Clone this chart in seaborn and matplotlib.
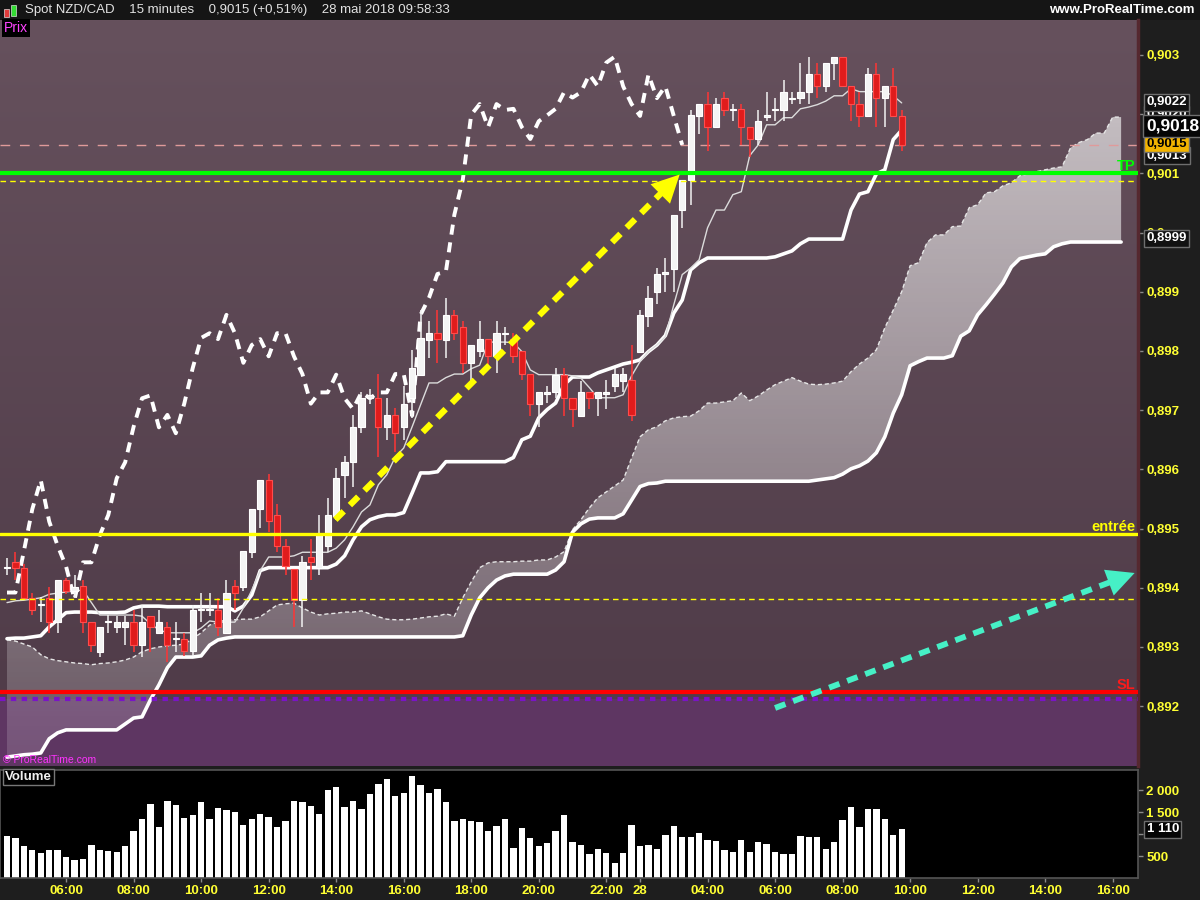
import numpy as np
import matplotlib
matplotlib.use("Agg")
import matplotlib.pyplot as plt
import matplotlib.transforms as mtransforms
from matplotlib.patches import Rectangle
import seaborn as sns

ouverture = [
    0.89433, 0.89443, 0.89433, 0.89382, 0.89371, 0.89382, 0.89343, 0.89413, 0.89394, 0.89403,
    0.89343, 0.89292, 0.89342, 0.89333, 0.89333, 0.89343, 0.89304, 0.89353, 0.89323, 0.89333,
    0.89313, 0.89314, 0.89293, 0.89362, 0.89362, 0.89363, 0.89323, 0.89403, 0.89402, 0.89461,
    0.89533, 0.89582, 0.89523, 0.89471, 0.89431, 0.89380, 0.89452, 0.89433, 0.89470, 0.89521,
    0.89590, 0.89612, 0.89671, 0.89720, 0.89720, 0.89671, 0.89692, 0.89671, 0.89720, 0.89760,
    0.89819, 0.89830, 0.89819, 0.89861, 0.89840, 0.89780, 0.89800, 0.89820, 0.89791, 0.89828,
    0.89820, 0.89800, 0.89761, 0.89711, 0.89728, 0.89730, 0.89760, 0.89720, 0.89690, 0.89730,
    0.89720, 0.89728, 0.89740, 0.89750, 0.89751, 0.89799, 0.89859, 0.89899, 0.89930, 0.89939,
    0.90038, 0.90089, 0.90197, 0.90217, 0.90178, 0.90227, 0.90207, 0.90208, 0.90178, 0.90158,
    0.90196, 0.90207, 0.90207, 0.90226, 0.90227, 0.90237, 0.90267, 0.90247, 0.90287, 0.90297,
    0.90247, 0.90217, 0.90197, 0.90267, 0.90227, 0.90247, 0.90197,
]
haut = [
    0.89450, 0.89461, 0.89441, 0.89392, 0.89385, 0.89402, 0.89413, 0.89416, 0.89422, 0.89413,
    0.89343, 0.89334, 0.89354, 0.89352, 0.89352, 0.89363, 0.89371, 0.89353, 0.89363, 0.89343,
    0.89343, 0.89323, 0.89371, 0.89392, 0.89392, 0.89382, 0.89413, 0.89413, 0.89462, 0.89533,
    0.89582, 0.89592, 0.89542, 0.89482, 0.89431, 0.89453, 0.89482, 0.89523, 0.89551, 0.89602,
    0.89622, 0.89692, 0.89731, 0.89735, 0.89761, 0.89720, 0.89703, 0.89741, 0.89801, 0.89870,
    0.89850, 0.89870, 0.89889, 0.89870, 0.89850, 0.89810, 0.89850, 0.89820, 0.89850, 0.89840,
    0.89830, 0.89800, 0.89761, 0.89730, 0.89740, 0.89771, 0.89771, 0.89720, 0.89750, 0.89730,
    0.89730, 0.89751, 0.89771, 0.89771, 0.89810, 0.89870, 0.89909, 0.89940, 0.89957, 0.90030,
    0.90089, 0.90207, 0.90217, 0.90237, 0.90227, 0.90237, 0.90217, 0.90217, 0.90178, 0.90207,
    0.90237, 0.90227, 0.90257, 0.90237, 0.90287, 0.90297, 0.90287, 0.90287, 0.90297, 0.90297,
    0.90247, 0.90237, 0.90278, 0.90287, 0.90247, 0.90278, 0.90207,
]
bas = [
    0.89422, 0.89413, 0.89379, 0.89354, 0.89343, 0.89323, 0.89323, 0.89390, 0.89382, 0.89323,
    0.89292, 0.89283, 0.89323, 0.89323, 0.89304, 0.89292, 0.89283, 0.89292, 0.89323, 0.89274,
    0.89292, 0.89284, 0.89284, 0.89343, 0.89352, 0.89318, 0.89323, 0.89363, 0.89394, 0.89450,
    0.89501, 0.89495, 0.89461, 0.89422, 0.89333, 0.89333, 0.89413, 0.89422, 0.89460, 0.89515,
    0.89551, 0.89571, 0.89661, 0.89710, 0.89621, 0.89650, 0.89630, 0.89650, 0.89686, 0.89760,
    0.89788, 0.89780, 0.89788, 0.89819, 0.89762, 0.89740, 0.89790, 0.89774, 0.89762, 0.89810,
    0.89780, 0.89751, 0.89690, 0.89671, 0.89712, 0.89720, 0.89690, 0.89671, 0.89690, 0.89702,
    0.89690, 0.89702, 0.89730, 0.89730, 0.89681, 0.89799, 0.89840, 0.89880, 0.89900, 0.89900,
    0.90007, 0.90047, 0.90167, 0.90137, 0.90178, 0.90197, 0.90188, 0.90148, 0.90128, 0.90148,
    0.90188, 0.90188, 0.90188, 0.90217, 0.90217, 0.90217, 0.90227, 0.90237, 0.90257, 0.90247,
    0.90188, 0.90178, 0.90197, 0.90178, 0.90178, 0.90197, 0.90137,
]
cloture = [
    0.89434, 0.89433, 0.89382, 0.89363, 0.89373, 0.89343, 0.89413, 0.89394, 0.89402, 0.89343,
    0.89304, 0.89334, 0.89344, 0.89343, 0.89343, 0.89304, 0.89343, 0.89333, 0.89343, 0.89304,
    0.89315, 0.89293, 0.89363, 0.89364, 0.89364, 0.89334, 0.89392, 0.89392, 0.89462, 0.89533,
    0.89582, 0.89512, 0.89471, 0.89436, 0.89380, 0.89443, 0.89443, 0.89489, 0.89523, 0.89585,
    0.89612, 0.89672, 0.89720, 0.89725, 0.89671, 0.89692, 0.89661, 0.89711, 0.89771, 0.89822,
    0.89830, 0.89820, 0.89861, 0.89830, 0.89780, 0.89810, 0.89820, 0.89791, 0.89830, 0.89830,
    0.89791, 0.89761, 0.89711, 0.89730, 0.89730, 0.89760, 0.89720, 0.89702, 0.89730, 0.89720,
    0.89730, 0.89730, 0.89761, 0.89761, 0.89691, 0.89861, 0.89890, 0.89930, 0.89934, 0.90030,
    0.90089, 0.90199, 0.90217, 0.90178, 0.90217, 0.90207, 0.90209, 0.90178, 0.90158, 0.90188,
    0.90198, 0.90209, 0.90237, 0.90228, 0.90237, 0.90267, 0.90247, 0.90287, 0.90297, 0.90247,
    0.90217, 0.90197, 0.90267, 0.90227, 0.90247, 0.90197, 0.90148,
]
volume = [
    948, 903, 722, 632, 564, 632, 632, 474, 406, 429,
    745, 632, 610, 587, 722, 1061, 1354, 1693, 1151, 1761,
    1670, 1377, 1445, 1738, 1354, 1603, 1558, 1512, 1196, 1354,
    1467, 1400, 1151, 1309, 1761, 1738, 1648, 1467, 2009, 2077,
    1625, 1761, 1580, 1919, 2144, 2257, 1874, 1941, 2325, 2122,
    1941, 2032, 1738, 1309, 1354, 1309, 1286, 1061, 1174, 1354,
    677, 1128, 903, 722, 790, 1061, 1445, 813, 745, 549,
    655, 564, 339, 564, 1196, 722, 745, 655, 970, 1174,
    926, 926, 1016, 858, 835, 632, 587, 858, 587, 813,
    768, 587, 542, 542, 948, 926, 926, 655, 813, 1332,
    1625, 1151, 1580, 1580, 1354, 970, 1110,
]

# Ichimoku (le nuage est déjà décalé de 26 barres)
tenkan = [
    0.89375, 0.89378, 0.89379, 0.89381, 0.89383, 0.89389, 0.89391, 0.89393, 0.89395, 0.89396,
    0.89375, 0.89354, 0.89354, 0.89354, 0.89354, 0.89354, 0.89352, 0.89339, 0.89329, 0.89324,
    0.89324, 0.89324, 0.89324, 0.89332, 0.89344, 0.89342, 0.89342, 0.89342, 0.89366, 0.89396,
    0.89429, 0.89452, 0.89452, 0.89452, 0.89454, 0.89460, 0.89460, 0.89460, 0.89460, 0.89467,
    0.89481, 0.89503, 0.89528, 0.89540, 0.89574, 0.89591, 0.89621, 0.89636, 0.89672, 0.89709,
    0.89746, 0.89746, 0.89755, 0.89761, 0.89761, 0.89770, 0.89776, 0.89815, 0.89815, 0.89815,
    0.89814, 0.89799, 0.89768, 0.89760, 0.89760, 0.89760, 0.89760, 0.89758, 0.89754, 0.89738,
    0.89721, 0.89721, 0.89721, 0.89726, 0.89758, 0.89782, 0.89799, 0.89810, 0.89824, 0.89878,
    0.89929, 0.89940, 0.89954, 0.90008, 0.90038, 0.90038, 0.90064, 0.90069, 0.90130, 0.90148,
    0.90182, 0.90182, 0.90194, 0.90194, 0.90209, 0.90212, 0.90216, 0.90222, 0.90231, 0.90231,
    0.90243, 0.90238, 0.90238, 0.90238, 0.90238, 0.90231, 0.90219,
]
kijun = [
    0.89314, 0.89315, 0.89315, 0.89317, 0.89319, 0.89334, 0.89346, 0.89358, 0.89359, 0.89359,
    0.89359, 0.89358, 0.89358, 0.89358, 0.89359, 0.89366, 0.89369, 0.89369, 0.89369, 0.89368,
    0.89368, 0.89368, 0.89368, 0.89368, 0.89368, 0.89368, 0.89368, 0.89361, 0.89369, 0.89388,
    0.89429, 0.89434, 0.89434, 0.89434, 0.89434, 0.89434, 0.89434, 0.89434, 0.89434, 0.89440,
    0.89454, 0.89481, 0.89503, 0.89515, 0.89520, 0.89523, 0.89523, 0.89527, 0.89560, 0.89594,
    0.89594, 0.89596, 0.89613, 0.89613, 0.89613, 0.89613, 0.89613, 0.89613, 0.89613, 0.89613,
    0.89620, 0.89650, 0.89656, 0.89687, 0.89701, 0.89712, 0.89743, 0.89756, 0.89756, 0.89756,
    0.89763, 0.89768, 0.89773, 0.89778, 0.89781, 0.89785, 0.89799, 0.89810, 0.89826, 0.89864,
    0.89886, 0.89937, 0.89949, 0.89957, 0.89957, 0.89957, 0.89957, 0.89957, 0.89957, 0.89957,
    0.89957, 0.89959, 0.89964, 0.89969, 0.89981, 0.89989, 0.89989, 0.89989, 0.89989, 0.89989,
    0.90038, 0.90065, 0.90069, 0.90099, 0.90106, 0.90157, 0.90173,
]
ssa = [
    0.89312, 0.89310, 0.89305, 0.89300, 0.89287, 0.89280, 0.89277, 0.89275, 0.89273, 0.89272,
    0.89270, 0.89272, 0.89273, 0.89275, 0.89278, 0.89283, 0.89292, 0.89297, 0.89300, 0.89302,
    0.89303, 0.89305, 0.89314, 0.89324, 0.89337, 0.89342, 0.89346, 0.89346, 0.89347, 0.89347,
    0.89351, 0.89361, 0.89371, 0.89373, 0.89374, 0.89366, 0.89359, 0.89354, 0.89356, 0.89357,
    0.89359, 0.89359, 0.89361, 0.89356, 0.89351, 0.89347, 0.89346, 0.89346, 0.89347, 0.89349,
    0.89351, 0.89352, 0.89356, 0.89352, 0.89383, 0.89410, 0.89434, 0.89442, 0.89444, 0.89444,
    0.89444, 0.89445, 0.89445, 0.89447, 0.89447, 0.89452, 0.89461, 0.89498, 0.89515, 0.89535,
    0.89552, 0.89562, 0.89572, 0.89582, 0.89619, 0.89655, 0.89667, 0.89672, 0.89682, 0.89687,
    0.89689, 0.89690, 0.89699, 0.89712, 0.89712, 0.89714, 0.89716, 0.89729, 0.89716, 0.89724,
    0.89734, 0.89743, 0.89749, 0.89755, 0.89749, 0.89744, 0.89743, 0.89744, 0.89746, 0.89749,
    0.89765, 0.89778, 0.89788, 0.89802, 0.89839, 0.89869, 0.89900, 0.89944, 0.89949, 0.89983,
    0.89996, 0.89996, 0.90010, 0.90011, 0.90042, 0.90047, 0.90067, 0.90069, 0.90079, 0.90084,
    0.90096, 0.90099, 0.90103, 0.90106, 0.90109, 0.90111, 0.90143, 0.90152, 0.90157, 0.90168,
    0.90168, 0.90195, 0.90195,
]
ssb = [
    0.89114, 0.89116, 0.89118, 0.89119, 0.89121, 0.89145, 0.89155, 0.89160, 0.89160, 0.89160,
    0.89160, 0.89160, 0.89160, 0.89160, 0.89170, 0.89180, 0.89182, 0.89211, 0.89236, 0.89265,
    0.89283, 0.89283, 0.89283, 0.89285, 0.89303, 0.89312, 0.89315, 0.89317, 0.89317, 0.89317,
    0.89317, 0.89317, 0.89317, 0.89317, 0.89317, 0.89317, 0.89317, 0.89317, 0.89317, 0.89317,
    0.89317, 0.89317, 0.89317, 0.89317, 0.89317, 0.89317, 0.89317, 0.89317, 0.89317, 0.89317,
    0.89317, 0.89317, 0.89317, 0.89317, 0.89319, 0.89354, 0.89383, 0.89400, 0.89413, 0.89420,
    0.89423, 0.89423, 0.89423, 0.89423, 0.89423, 0.89430, 0.89444, 0.89494, 0.89508, 0.89516,
    0.89518, 0.89518, 0.89518, 0.89525, 0.89548, 0.89571, 0.89576, 0.89577, 0.89580, 0.89580,
    0.89580, 0.89580, 0.89580, 0.89580, 0.89580, 0.89580, 0.89580, 0.89580, 0.89580, 0.89580,
    0.89580, 0.89580, 0.89580, 0.89580, 0.89580, 0.89580, 0.89582, 0.89584, 0.89586, 0.89592,
    0.89601, 0.89606, 0.89614, 0.89628, 0.89655, 0.89695, 0.89726, 0.89775, 0.89782, 0.89788,
    0.89788, 0.89788, 0.89792, 0.89825, 0.89834, 0.89861, 0.89878, 0.89896, 0.89915, 0.89942,
    0.89956, 0.89959, 0.89962, 0.89964, 0.89976, 0.89981, 0.89984, 0.89984, 0.89984, 0.89984,
    0.89984, 0.89984, 0.89984,
]
decalage_chikou = 26

# Niveaux tracés à la main
niveau_tp = 0.9010
niveau_tp_pointille = 0.90087
niveau_entree = 0.89491
niveau_entree_pointille = 0.89381
niveau_sl = 0.89224
niveau_sl_pointille = 0.89212

# Flèches (n° de barre, prix) : départ -> pointe
fleche_jaune_x = [38.9, 79.7]
fleche_jaune_y = [0.89515, 0.90098]
fleche_turquoise_x = [91.0, 133.6]
fleche_turquoise_y = [0.89197, 0.89425]

# Axe du temps
pos_heures = [7, 15, 23, 31, 39, 47, 55, 63, 71, 75, 83, 91, 99, 107, 115, 123, 131]
lib_heures = ["06:00", "08:00", "10:00", "12:00", "14:00", "16:00", "18:00", "20:00",
              "22:00", "28", "04:00", "06:00", "08:00", "10:00", "12:00", "14:00", "16:00"]

# Valeurs encadrées sur l'échelle de droite
valeurs_boites = [0.9013, 0.9015, 0.9020, 0.9022, 0.8999, 0.9018]
ticks_prix = [0.892, 0.893, 0.894, 0.895, 0.896, 0.897, 0.898, 0.899, 0.900, 0.901, 0.902, 0.903]
ticks_volume = [500, 1000, 1500, 2000]

sns.set_style("dark")
plt.rcParams['font.family'] = ['Liberation Sans', 'DejaVu Sans']

W, H = 1200, 900
fig = plt.figure(figsize=(12, 9), dpi=100)
fig.patch.set_facecolor('#1e1e1e')
ax = fig.add_axes([0, 1 - 766 / H, 1138 / W, (766 - 20) / H])
axv = fig.add_axes([0, 1 - 878 / H, 1138 / W, (878 - 770) / H])

x_min, x_max = -0.83, 134.0
y_min, y_max = 0.89099, 0.90359

o = np.array(ouverture)
c = np.array(cloture)
hi = np.array(haut)
lo = np.array(bas)
idx = np.arange(len(c))
idx_nuage = np.arange(len(ssa))

# fond dégradé + zone violette sous le stop
yy = np.linspace(y_min, y_max, 400)
f = np.clip((yy - niveau_sl) / (y_max - niveau_sl), 0, 1)[:, None, None]
c_haut = np.array([102, 81, 93]) / 255
c_bas = np.array([80, 60, 73]) / 255
fond = c_bas + f * (c_haut - c_bas)
ax.imshow(fond, extent=[x_min, x_max, y_min, y_max], origin='lower', aspect='auto',
          zorder=0, interpolation='bilinear')
ax.axhspan(y_min, niveau_sl_pointille, color='#5e3662', lw=0, zorder=0.5)

# nuage : blanc transparent en dégradé, découpé sur la zone SSA/SSB
poly = ax.fill_between(idx_nuage, ssa, ssb, facecolor='none', edgecolor='none', zorder=1)
alpha = np.clip(0.25 + (yy - 0.89312) / 0.00882 * 0.42, 0.12, 0.8)
nuage = np.ones((len(yy), 1, 4))
nuage[:, 0, :3] = 0.96
nuage[:, 0, 3] = alpha
im = ax.imshow(nuage, extent=[x_min, x_max, y_min, y_max], origin='lower', aspect='auto',
               zorder=1.2, interpolation='bilinear')
im.set_clip_path(poly.get_paths()[0], transform=ax.transData)

# lignes Ichimoku
sns.lineplot(x=idx_nuage, y=ssa, ax=ax, color='#e6e6e6', lw=1, ls=(0, (3, 2)), zorder=2)
sns.lineplot(x=idx_nuage, y=ssb, ax=ax, color='white', lw=2.6, zorder=2)
sns.lineplot(x=idx, y=kijun, ax=ax, color='white', lw=2.6, zorder=3)
sns.lineplot(x=idx, y=tenkan, ax=ax, color='#dcdcdc', lw=1, zorder=3)
sns.lineplot(x=idx[:-decalage_chikou], y=c[decalage_chikou:], ax=ax, color='white',
             lw=2.8, ls=(0, (2.6, 2.0)), zorder=3)

# bougies
hausse = c >= o
ax.vlines(idx, lo, hi, colors=np.where(hausse, '#f2f2f2', '#ff3535'), lw=1.1, zorder=4)
ax.bar(idx, np.maximum(np.abs(c - o), 0.00002), bottom=np.minimum(o, c), width=0.74,
       color=np.where(hausse, '#f4f4f4', '#e01c1c'),
       edgecolor=np.where(hausse, '#ffffff', '#ff4c4c'), lw=0.8, zorder=5)

# niveaux
ax.axhline(c[-1], color='#e09a9a', lw=1, ls=(0, (7, 7)), zorder=2.5)
ax.axhline(niveau_tp, color='#00ff00', lw=3, zorder=6)
ax.axhline(niveau_tp_pointille, color='#ffff00', lw=1, ls=(0, (4, 3)), zorder=6)
ax.axhline(niveau_entree, color='#ffff00', lw=2.4, zorder=6)
ax.axhline(niveau_entree_pointille, color='#ffff00', lw=1, ls=(0, (4, 3)), zorder=6)
ax.axhline(niveau_sl, color='#ff0000', lw=3, zorder=6)
ax.axhline(niveau_sl_pointille, color='#7a14c8', lw=3, ls=(0, (1.3, 1.3)), zorder=6)

tr = mtransforms.blended_transform_factory(ax.transAxes, ax.transData)
ax.text(0.998, niveau_tp, 'TP', transform=tr, color='#00ff00', fontsize=10.5,
        fontweight='bold', ha='right', va='bottom', zorder=7)
ax.text(0.998, niveau_entree, 'entrée', transform=tr, color='#ffff00', fontsize=10.5,
        fontweight='bold', ha='right', va='bottom', zorder=7)
ax.text(0.998, niveau_sl, 'SL', transform=tr, color='#ff1a1a', fontsize=10.5,
        fontweight='bold', ha='right', va='bottom', zorder=7)


def fleche(xs, ys, couleur, lw):
    fin_x = xs[0] + 0.95 * (xs[1] - xs[0])
    fin_y = ys[0] + 0.95 * (ys[1] - ys[0])
    ax.plot([xs[0], fin_x], [ys[0], fin_y], color=couleur, lw=lw, ls=(0, (1.9, 1.4)),
            dash_capstyle='butt', zorder=8)
    base_x = xs[0] + 0.8 * (xs[1] - xs[0])
    base_y = ys[0] + 0.8 * (ys[1] - ys[0])
    ax.annotate('', xy=(xs[1], ys[1]), xytext=(base_x, base_y),
                arrowprops=dict(arrowstyle='-|>,head_length=0.9,head_width=0.45',
                                fc=couleur, ec=couleur, lw=0, shrinkA=0, shrinkB=0,
                                mutation_scale=22), zorder=9)


fleche(fleche_jaune_x, fleche_jaune_y, '#ffff00', 4.5)
fleche(fleche_turquoise_x, fleche_turquoise_y, '#46f0c6', 4.2)

ax.set_xlim(x_min, x_max)
ax.set_ylim(y_min, y_max)
ax.set_xlabel('')
ax.set_ylabel('')
ax.set_xticks([])
ax.yaxis.tick_right()
# le 0,902 est caché par les boîtes sur la capture : on garde le trait, pas le texte
lib_prix = [f"{v:.4f}".rstrip('0').replace('.', ',') for v in ticks_prix]
lib_prix = ['' if v == 0.902 else s for v, s in zip(ticks_prix, lib_prix)]
ax.set_yticks(ticks_prix, lib_prix)
ax.tick_params(axis='y', right=True, left=False, labelcolor='#ffff33', color='#8a8a8a',
               length=3.5, width=1, pad=2.5, labelsize=9.5)
for t in ax.get_yticklabels():
    t.set_fontweight('bold')
for s in ['top', 'left', 'bottom']:
    ax.spines[s].set_visible(False)
ax.spines['right'].set_color('#55282f')
ax.spines['right'].set_linewidth(2.5)
ax.grid(False)

# étiquettes encadrées à droite
styles = {
    0.9013: dict(fs=9.5, fc='#111111', tc='white'),
    0.9015: dict(fs=9.5, fc='#f2b400', tc='black'),
    0.9020: dict(fs=9.5, fc='#111111', tc='white'),
    0.9022: dict(fs=9.5, fc='#111111', tc='white'),
    0.8999: dict(fs=9.5, fc='#111111', tc='white'),
    0.9018: dict(fs=12.5, fc='#050505', tc='white'),
}
for k, v in enumerate(valeurs_boites):
    st = styles[v]
    ax.text(1.0075, v, f"{v:.4f}".replace('.', ','), transform=tr, ha='left', va='center',
            color=st['tc'], fontsize=st['fs'], fontweight='bold', clip_on=False, zorder=10 + k,
            bbox=dict(boxstyle='square,pad=0.18', fc=st['fc'], ec='#6e6e6e', lw=1))

# volume
sns.barplot(x=idx, y=volume, native_scale=True, color='white', width=0.75, saturation=1,
            errorbar=None, linewidth=0, ax=axv)
axv.set_facecolor('black')
axv.set_xlim(x_min, x_max)
axv.set_ylim(0, 2460)
axv.set_xlabel('')
axv.set_ylabel('')
axv.yaxis.tick_right()
# le 1 000 est masqué par la boîte du dernier volume
lib_vol = ['' if v == 1000 else f"{v:,}".replace(',', ' ') for v in ticks_volume]
axv.set_yticks(ticks_volume, lib_vol)
axv.tick_params(axis='y', right=True, left=False, labelcolor='#ffff33', color='#8a8a8a',
                length=3.5, width=1, pad=2.5, labelsize=9.5)
axv.set_xticks(pos_heures, lib_heures)
axv.tick_params(axis='x', bottom=True, labelcolor='#ffff33', color='#8a8a8a',
                length=3, width=1, pad=2, labelsize=9.5)
for t in axv.get_yticklabels() + axv.get_xticklabels():
    t.set_fontweight('bold')
for s in axv.spines.values():
    s.set_color('#555555')
    s.set_linewidth(1.2)
axv.grid(False)
trv = mtransforms.blended_transform_factory(axv.transAxes, axv.transData)
axv.text(1.0075, volume[-1], f"{volume[-1]:,}".replace(',', ' '), transform=trv, ha='left',
         va='center', color='white', fontsize=9.5, fontweight='bold', clip_on=False, zorder=10,
         bbox=dict(boxstyle='square,pad=0.18', fc='#050505', ec='#6e6e6e', lw=1))

# bandeau du haut et étiquettes
fig.add_artist(Rectangle((0, 1 - 20 / H), 1, 20 / H, transform=fig.transFigure,
                         fc='#151515', ec='none', zorder=0))
fig.add_artist(Rectangle((4 / W, 1 - 17 / H), 5 / W, 8 / H, transform=fig.transFigure,
                         fc='#e03a3a', ec='#ffffff', lw=0.4))
fig.add_artist(Rectangle((11 / W, 1 - 16 / H), 5 / W, 11 / H, transform=fig.transFigure,
                         fc='#33dd33', ec='#ffffff', lw=0.4))
fig.text(25 / W, 1 - 10 / H, "Spot NZD/CAD    15 minutes    0,9015 (+0,51%)    28 mai 2018 09:58:33",
         color='#e2e2e2', fontsize=9.5, va='center', ha='left')
fig.text(1195 / W, 1 - 10 / H, "www.ProRealTime.com", color='white', fontsize=9.5,
         fontweight='bold', va='center', ha='right')
fig.text(4 / W, 1 - 28 / H, "Prix", color='#ff44ff', fontsize=10, va='center', ha='left',
         bbox=dict(fc='black', ec='none', pad=1.5))
fig.text(3 / W, 1 - 760 / H, "© ProRealTime.com", color='#ff33ff', fontsize=7.5,
         va='center', ha='left', zorder=20)
fig.text(5 / W, 1 - 777 / H, "Volume", color='#f0f0f0', fontsize=9.5, fontweight='bold',
         va='center', ha='left', bbox=dict(fc='black', ec='#777777', lw=1, pad=1.5))

fig.savefig("out.png", dpi=100, facecolor=fig.get_facecolor())
